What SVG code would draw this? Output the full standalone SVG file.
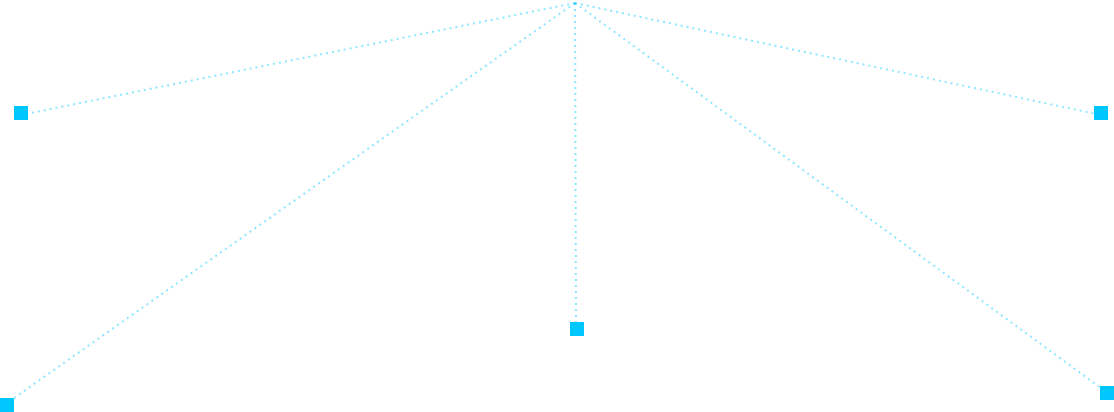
<svg xmlns="http://www.w3.org/2000/svg" width="1114" height="412" viewBox="0 0 1114 412">
<style>
.link{stroke:#00c8ff;stroke-opacity:0.45;stroke-width:2;stroke-dasharray:2 4;fill:none;stroke-linecap:butt}
.node{fill:#00c8ff}
</style>
<rect width="1114" height="412" fill="#ffffff"/>
<g id="connectors">
<line class="link" x1="575" y1="3" x2="21" y2="115"/>
<line class="link" x1="575" y1="3" x2="1101" y2="115"/>
<line class="link" x1="575" y1="3" x2="7" y2="403"/>
<line class="link" x1="575" y1="3" x2="576" y2="322"/>
<line class="link" x1="575" y1="3" x2="1105" y2="391"/>
</g>
<g id="node-left"><rect class="node" x="14" y="106" width="14" height="14"/></g>
<g id="node-right"><rect class="node" x="1094" y="106" width="14" height="14"/></g>
<g id="node-bottom-left"><rect class="node" x="0" y="398" width="14" height="14"/></g>
<g id="node-center"><rect class="node" x="570" y="322" width="14" height="14"/></g>
<g id="node-bottom-right"><rect class="node" x="1100" y="386" width="14" height="14"/></g>
</svg>
